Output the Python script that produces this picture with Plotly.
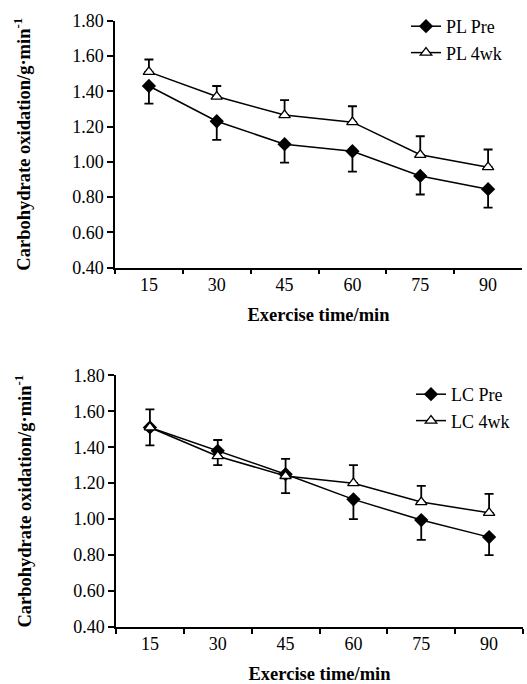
import plotly.graph_objects as go

# ---- data ----
times = ["15", "30", "45", "60", "75", "90"]

pl_pre = [1.43, 1.23, 1.10, 1.06, 0.92, 0.845]
pl_pre_err = [0.10, 0.105, 0.105, 0.115, 0.105, 0.105]
pl_4wk = [1.51, 1.37, 1.265, 1.225, 1.04, 0.97]
pl_4wk_err = [0.07, 0.06, 0.085, 0.09, 0.105, 0.10]

lc_pre = [1.51, 1.38, 1.25, 1.11, 0.995, 0.90]
lc_pre_err = [0.10, 0.08, 0.105, 0.11, 0.11, 0.10]
lc_4wk = [1.51, 1.35, 1.24, 1.20, 1.095, 1.035]
lc_4wk_err = [0.10, 0.09, 0.095, 0.10, 0.09, 0.105]

y_ticks = [0.40, 0.60, 0.80, 1.00, 1.20, 1.40, 1.60, 1.80]

W, H = 527, 684
FONT = "'Liberation Serif', 'Times New Roman', Times, serif"
zeros = [0] * len(times)


def px_x(p):
    return p / W


def px_y(p):
    return 1 - p / H


def pre_trace(name, y, err, xa, ya, legend):
    return go.Scatter(
        x=times, y=y, name=name, mode="lines+markers",
        xaxis=xa, yaxis=ya, legend=legend,
        line=dict(color="black", width=1.5),
        marker=dict(symbol="diamond", size=11, color="black"),
        error_y=dict(type="data", symmetric=False, array=zeros, arrayminus=err,
                     color="black", thickness=1.8, width=4.5),
    )


def post_trace(name, y, err, xa, ya, legend):
    return go.Scatter(
        x=times, y=y, name=name, mode="lines+markers",
        xaxis=xa, yaxis=ya, legend=legend,
        line=dict(color="black", width=1.5),
        marker=dict(symbol="triangle-up", size=10, color="white",
                    line=dict(color="black", width=1.3)),
        error_y=dict(type="data", symmetric=False, array=err, arrayminus=zeros,
                     color="black", thickness=1.8, width=4.5),
    )


fig = go.Figure()
fig.add_trace(pre_trace("PL Pre", pl_pre, pl_pre_err, "x", "y", "legend"))
fig.add_trace(post_trace("PL 4wk", pl_4wk, pl_4wk_err, "x", "y", "legend"))
fig.add_trace(pre_trace("LC Pre", lc_pre, lc_pre_err, "x2", "y2", "legend2"))
fig.add_trace(post_trace("LC 4wk", lc_4wk, lc_4wk_err, "x2", "y2", "legend2"))

ytitle = "Carbohydrate oxidation/g·min<sup>-1</sup>"
xtitle = "Exercise time/min"
tfont = dict(family=FONT, size=18.5, color="black", weight="bold")

xaxis_common = dict(
    type="category", range=[-0.5, 5.5], tickson="boundaries",
    showline=True, linecolor="black", linewidth=1.5,
    ticks="outside", ticklen=5, tickwidth=1.5, tickcolor="black",
    showgrid=False, zeroline=False, automargin=False,
    tickfont=dict(family=FONT, size=18, color="black"),
    title=dict(text=xtitle, font=tfont, standoff=14),
)
yaxis_common = dict(
    range=[0.40, 1.80], tickvals=y_ticks, tickformat=".2f",
    showline=True, linecolor="black", linewidth=1.5,
    ticks="outside", ticklen=6, tickwidth=1.5, tickcolor="black",
    showgrid=False, zeroline=False, automargin=False,
    tickfont=dict(family=FONT, size=18, color="black"),
    title=dict(text=ytitle, font=tfont, standoff=37),
)

legend_common = dict(
    font=dict(family=FONT, size=18, color="black"),
    bgcolor="rgba(0,0,0,0)", xanchor="left", yanchor="top",
    tracegroupgap=0, itemwidth=30,
)

fig.update_layout(
    width=W, height=H,
    margin=dict(l=0, r=0, t=0, b=0, autoexpand=False),
    paper_bgcolor="white", plot_bgcolor="white",
    font=dict(family=FONT, color="black"),
    showlegend=True,
    xaxis=dict(domain=[px_x(115), px_x(522)], anchor="y", **xaxis_common),
    yaxis=dict(domain=[px_y(267.7), px_y(20.7)], anchor="x", **yaxis_common),
    xaxis2=dict(domain=[px_x(116), px_x(523)], anchor="y2", **xaxis_common),
    yaxis2=dict(domain=[px_y(627), px_y(375.3)], anchor="x2", **yaxis_common),
    legend=dict(x=px_x(406), y=px_y(8), **legend_common),
    legend2=dict(x=px_x(411), y=px_y(376), **legend_common),
)

fig.write_html("out.html", config={"displayModeBar": False},
               post_script="document.body.style.margin='0px';")
